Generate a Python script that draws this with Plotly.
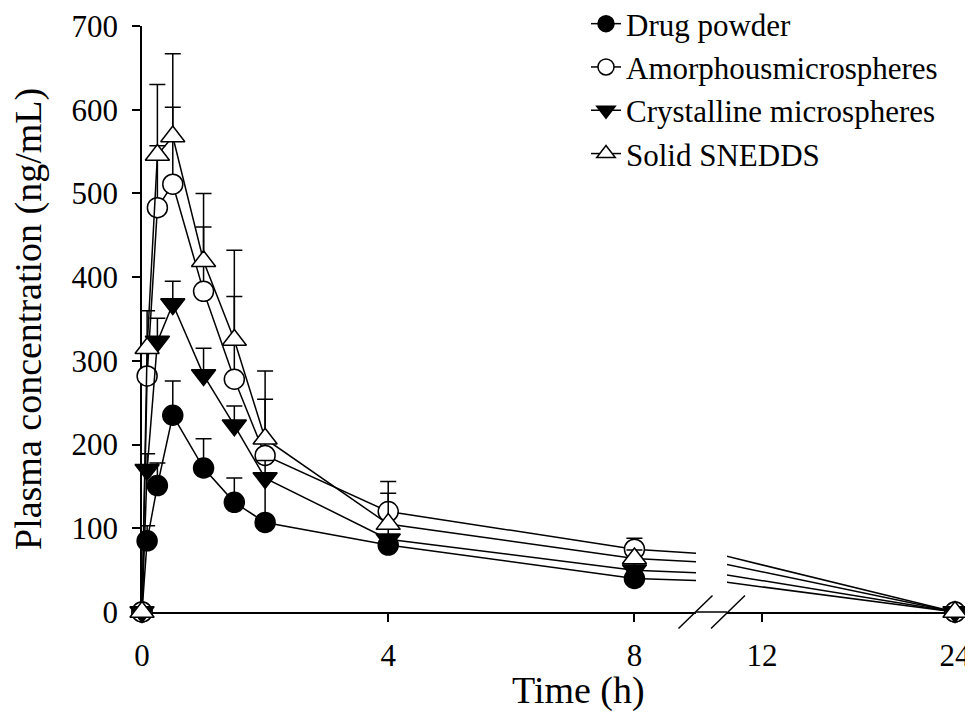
import plotly.graph_objects as go

# ---- data ----
time_h = [0, 0.083, 0.25, 0.5, 1, 1.5, 2, 4, 8, 24]

drug_powder = [0, 85, 151, 235, 172, 131, 107, 80, 40, 0]
drug_powder_err = [0, 18, 27, 41, 35, 29, 53, 10, 8, 0]

amorphous = [0, 282, 483, 511, 383, 278, 187, 120, 75, 0]
amorphous_err = [0, 30, 74, 92, 77, 99, 67, 36, 13, 0]

crystalline = [0, 170, 323, 368, 283, 223, 160, 87, 50, 0]
crystalline_err = [0, 19, 28, 27, 32, 23, 21, 12, 10, 0]

snedds = [0, 315, 546, 568, 419, 325, 207, 105, 64, 0]
snedds_err = [0, 45, 84, 99, 81, 107, 81, 37, 10, 0]

series_names = ["Drug powder", "Amorphousmicrospheres",
                "Crystalline microspheres", "Solid SNEDDS"]
x_ticks_left = [0, 4, 8]
x_ticks_right = [12, 24]
y_ticks = [0, 100, 200, 300, 400, 500, 600, 700]

# ---- styling ----
FONT = "Liberation Serif"
OFF = 8                      # page body margin of the html page
W, H = 973 - OFF, 715 - OFF
ML, MT = 142 - OFF, 26 - OFF
MR = W - (955 - OFF)
MB = H - (612 - OFF)
PW = W - ML - MR
PH = H - MT - MB
LEFT_END_PX = 696 - OFF
RIGHT_START_PX = 727 - OFF
d1 = (LEFT_END_PX - ML) / PW
d2 = (RIGHT_START_PX - ML) / PW

styles = [
    dict(symbol="circle", color="black", size=20),
    dict(symbol="circle", color="white", size=20),
    dict(symbol="triangle-down", color="black", size=21),
    dict(symbol="triangle-up", color="white", size=21),
]
values = [drug_powder, amorphous, crystalline, snedds]
errors = [drug_powder_err, amorphous_err, crystalline_err, snedds_err]

fig = go.Figure()

# left (pre-break) segment
for name, y, e, st in zip(series_names, values, errors, styles):
    fig.add_trace(go.Scatter(
        x=time_h, y=y, name=name, mode="lines+markers",
        xaxis="x", yaxis="y", cliponaxis=False,
        line=dict(color="black", width=1.5),
        marker=dict(symbol=st["symbol"], size=st["size"], color=st["color"],
                    line=dict(color="black", width=1.5)),
        error_y=dict(type="data", symmetric=False, array=e,
                     arrayminus=[0] * len(e), color="black",
                     thickness=1.5, width=8),
    ))

# right (post-break) segment
for name, y, st in zip(series_names, values, styles):
    fig.add_trace(go.Scatter(
        x=time_h, y=y, name=name, mode="lines+markers", showlegend=False,
        xaxis="x2", yaxis="y", cliponaxis=False,
        line=dict(color="black", width=1.5),
        marker=dict(symbol=st["symbol"], size=st["size"], color=st["color"],
                    line=dict(color="black", width=1.5)),
    ))

axis_common = dict(
    showline=True, linecolor="black", linewidth=1.5,
    ticks="outside", ticklen=8, tickwidth=1.5, tickcolor="black",
    showgrid=False, zeroline=False, layer="below traces", automargin=False,
    ticklabeloverflow="allow",
    tickfont=dict(family=FONT, size=31, color="black"),
)

fig.update_layout(
    width=W, height=H,
    margin=dict(l=ML, r=MR, t=MT, b=MB, autoexpand=False),
    paper_bgcolor="white", plot_bgcolor="white",
    xaxis=dict(domain=[0, d1], range=[0, 9.0], tickvals=x_ticks_left,
               anchor="y", ticklabelstandoff=7, **axis_common),
    xaxis2=dict(domain=[d2, 1], range=[9.82, 24], tickvals=x_ticks_right,
                anchor="y", ticklabelstandoff=7, **axis_common),
    yaxis=dict(range=[0, 700], tickvals=y_ticks, anchor="x",
               ticklabelstandoff=8, **axis_common),
    showlegend=True,
    legend=dict(x=(578 - ML) / PW, y=1 + (MT + 11) / PH,
                xanchor="left", yanchor="top", bgcolor="rgba(0,0,0,0)",
                tracegroupgap=0,
                font=dict(family=FONT, size=31, color="black")),
    font=dict(family=FONT, color="black"),
)

# axis titles
fig.add_annotation(text="Time (h)", xref="paper", yref="paper",
                   x=(570 - ML) / PW, y=-(682 - (H - MB)) / PH,
                   xanchor="center", yanchor="middle", showarrow=False,
                   font=dict(family=FONT, size=38, color="black"))
fig.add_annotation(text="Plasma concentration (ng/mL)", xref="paper",
                   yref="paper", x=-(ML - 20) / PW, y=0.5, textangle=-90,
                   xanchor="center", yanchor="middle", showarrow=False,
                   font=dict(family=FONT, size=38, color="black"))

# continuous baseline across the break and the break marks
fig.add_shape(type="line", xref="paper", yref="paper", x0=d1, x1=d2, y0=0, y1=0,
              line=dict(color="black", width=1.5))
dx = 17 / PW
dy = 16.5 / PH
for xc in (LEFT_END_PX - 0.5, RIGHT_START_PX + 1):
    xp = (xc - ML) / PW
    fig.add_shape(type="line", xref="paper", yref="paper",
                  x0=xp - dx, y0=-dy, x1=xp + dx, y1=dy,
                  line=dict(color="black", width=1.5))

fig.write_html("out.html")
